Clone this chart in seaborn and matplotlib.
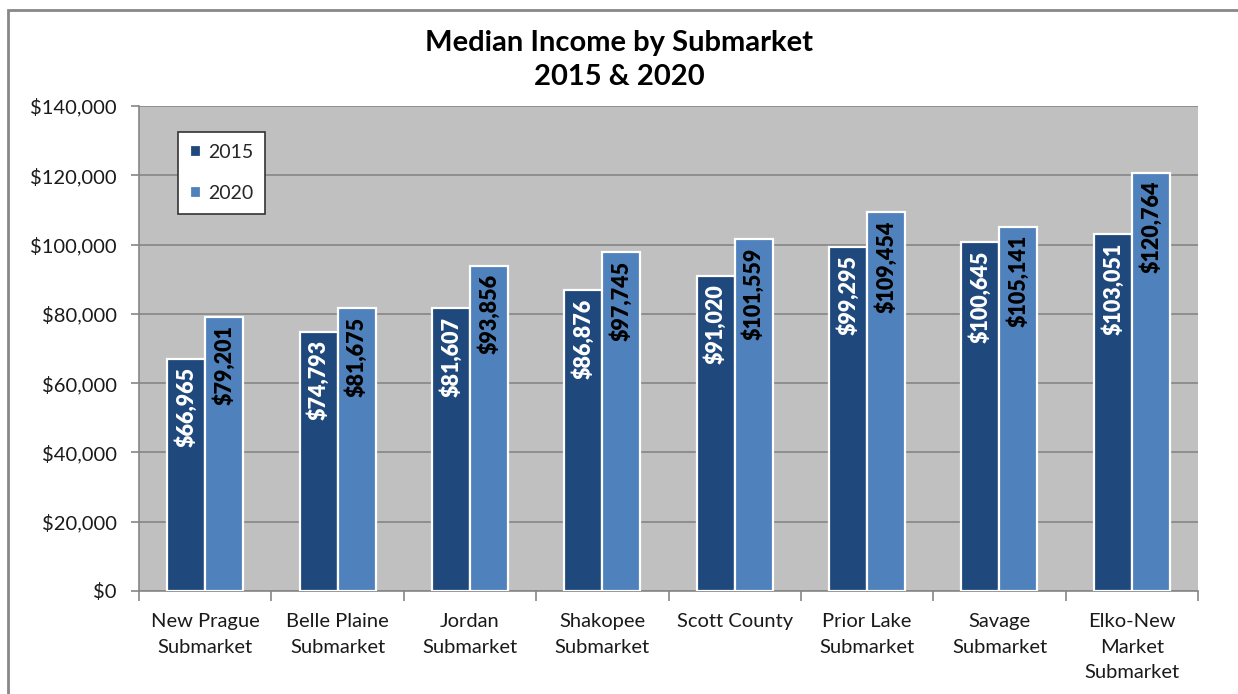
import pandas as pd
import numpy as np
import matplotlib.pyplot as plt
import seaborn as sns

submarkets = ['New Prague\nSubmarket', 'Belle Plaine\nSubmarket', 'Jordan\nSubmarket',
              'Shakopee\nSubmarket', 'Scott County', 'Prior Lake\nSubmarket',
              'Savage\nSubmarket', 'Elko-New\nMarket\nSubmarket']
income_2015 = [66965, 74793, 81607, 86876, 91020, 99295, 100645, 103051]
income_2020 = [79201, 81675, 93856, 97745, 101559, 109454, 105141, 120764]
years = ['2015', '2020']
y_ticks = [0, 20000, 40000, 60000, 80000, 100000, 120000, 140000]

df = pd.DataFrame({
    'Submarket': submarkets * 2,
    'Year': [years[0]] * len(submarkets) + [years[1]] * len(submarkets),
    'Income': income_2015 + income_2020,
})

sns.set_theme(style='white')
plt.rcParams['font.family'] = ['Lato', 'DejaVu Sans']

fig = plt.figure(figsize=(12.38, 6.94), dpi=100)
ax = fig.add_axes([139 / 1238, 1 - 591 / 694, (1198 - 139) / 1238, (591 - 106) / 694])

palette = {'2015': '#1F497D', '2020': '#4F81BD'}
sns.barplot(data=df, x='Submarket', y='Income', hue='Year', palette=palette,
            width=0.575, edgecolor='white', linewidth=1.6, saturation=1,
            ax=ax, zorder=3)

ax.set_facecolor('#C0C0C0')
ax.set_ylim(0, 140000)
ax.set_xlim(-0.5, len(submarkets) - 0.5)
ax.set_yticks(y_ticks)
ax.set_yticklabels([f'${v:,.0f}' for v in y_ticks])
ax.yaxis.grid(True, color='#868686', linewidth=1.2, zorder=0)
ax.set_axisbelow(True)
ax.set_xlabel('')
ax.set_ylabel('')

for s in ['top', 'right']:
    ax.spines[s].set_visible(False)
for s in ['left', 'bottom']:
    ax.spines[s].set_color('#868686')
    ax.spines[s].set_linewidth(1.2)

ax.tick_params(axis='y', which='major', length=6, width=1.2, color='#868686',
               labelsize=14.5, labelcolor='#1a1a1a', pad=10, left=True)
ax.tick_params(axis='x', which='major', length=0, labelsize=14.5,
               labelcolor='#1a1a1a', pad=16)
ax.set_xticks(range(len(submarkets)))
ax.set_xticklabels(submarkets, linespacing=1.6)
ax.set_xticks(np.arange(-0.5, len(submarkets), 1.0), minor=True)
ax.tick_params(axis='x', which='minor', length=7, width=1.2, color='#868686', bottom=True)

# value labels inside the bars
text_colors = ['white', 'black']
for container, col in zip(ax.containers, text_colors):
    for bar in container:
        h = bar.get_height()
        ax.annotate(f'${h:,.0f}', (bar.get_x() + bar.get_width() / 2, h),
                    xytext=(0, -6), textcoords='offset points',
                    rotation=90, ha='center', va='top',
                    fontsize=15.5, fontweight='heavy', color=col, zorder=5)

leg = ax.legend(loc='upper left', bbox_to_anchor=(0.037, 0.946), fontsize=14,
                frameon=True, fancybox=False, edgecolor='#333333', facecolor='white',
                framealpha=1, handlelength=0.55, handleheight=0.55, handletextpad=0.4,
                labelspacing=1.25, borderpad=0.6, borderaxespad=0)
leg.get_frame().set_linewidth(1.2)

fig.text(0.5, 1 - 60 / 694, 'Median Income by Submarket\n2015 & 2020', ha='center',
         va='center', fontsize=21, fontweight='bold', linespacing=1.35, color='black')

# chart frame
frame = plt.Rectangle((8 / 1238, -0.02), 1.05, 1 - 10 / 694 + 0.02, transform=fig.transFigure,
                      fill=False, edgecolor='#888888', linewidth=2, zorder=0)
fig.patches.append(frame)

fig.savefig('out.png', dpi=100)
